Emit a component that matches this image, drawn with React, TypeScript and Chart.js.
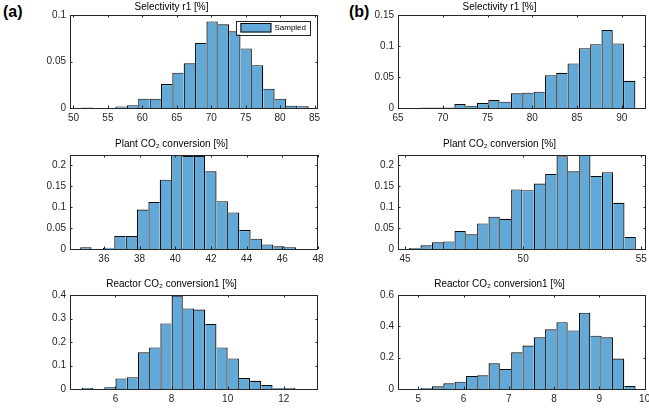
import React, { useEffect, useRef } from "react";
import { Chart, registerables } from "chart.js";

Chart.register(...registerables);

// ---------------- data ----------------
const seriesLabel = "Sampled";
const panelTags = ["(a)", "(b)"];

const titleSelectivity = "Selectivity r1 [%]";
const titlePlant = "Plant CO\u2082 conversion [%]";
const titleReactor = "Reactor CO\u2082 conversion1 [%]";

// (a) Selectivity r1 [%]
const selA_firstEdge = 51.15;
const selA_binWidth = 1.65;
const selA_density = [0.0006, 0, 0, 0.0015, 0.003, 0.01, 0.01, 0.0257, 0.038, 0.048, 0.07, 0.093, 0.09, 0.0825, 0.064, 0.046, 0.0207, 0.01, 0.0025, 0.0018];
const selA_xRange = [49.5, 85.5];
const selA_xStep = 5;
const selA_yRange = [0, 0.1];
const selA_yStep = 0.05;

// (a) Plant CO2 conversion [%]
const plantA_firstEdge = 34.67;
const plantA_binWidth = 0.637;
const plantA_density = [0.004, 0, 0.003, 0.031, 0.031, 0.094, 0.112, 0.165, 0.235, 0.222, 0.222, 0.185, 0.114, 0.087, 0.045, 0.0246, 0.011, 0.0063, 0.004];
const plantA_xRange = [34.1, 48];
const plantA_xStep = 2;
const plantA_yRange = [0, 0.224];
const plantA_yStep = 0.05;

// (a) Reactor CO2 conversion1 [%]
const reacA_firstEdge = 4.8;
const reacA_binWidth = 0.4;
const reacA_density = [0.004, 0, 0.007, 0.045, 0.05, 0.156, 0.177, 0.279, 0.397, 0.343, 0.338, 0.277, 0.177, 0.13, 0.047, 0.035, 0.017, 0.004, 0.004];
const reacA_xRange = [4.38, 13.22];
const reacA_xStep = 2;
const reacA_yRange = [0, 0.4];
const reacA_yStep = 0.1;

// (b) Selectivity r1 [%]
const selB_firstEdge = 67.5;
const selB_binWidth = 1.264;
const selB_density = [0.0008, 0.001, 0.001, 0.0064, 0.0037, 0.008, 0.0129, 0.0102, 0.0236, 0.0246, 0.0262, 0.053, 0.0568, 0.0718, 0.0964, 0.1029, 0.1259, 0.104, 0.0439];
const selB_xRange = [65, 92.7];
const selB_xStep = 5;
const selB_yRange = [0, 0.15];
const selB_yStep = 0.05;

// (b) Plant CO2 conversion [%]
const plantB_firstEdge = 45.17;
const plantB_binWidth = 0.48;
const plantB_density = [0.0024, 0.0087, 0.0159, 0.018, 0.043, 0.035, 0.061, 0.077, 0.072, 0.142, 0.14, 0.156, 0.179, 0.221, 0.185, 0.24, 0.174, 0.183, 0.11, 0.0286];
const plantB_xRange = [44.7, 55.2];
const plantB_xStep = 5;
const plantB_yRange = [0, 0.224];
const plantB_yStep = 0.05;

// (b) Reactor CO2 conversion1 [%]
const reacB_firstEdge = 5.05;
const reacB_binWidth = 0.25;
const reacB_density = [0.0064, 0.017, 0.036, 0.047, 0.083, 0.087, 0.164, 0.128, 0.234, 0.277, 0.33, 0.381, 0.426, 0.374, 0.487, 0.34, 0.33, 0.194, 0.019];
const reacB_xRange = [4.55, 10.03];
const reacB_xStep = 1;
const reacB_yRange = [0, 0.6];
const reacB_yStep = 0.2;

// ---------------- style / layout ----------------
const FONT = "'Liberation Sans', Arial, Helvetica, sans-serif";
const BAR_FILL = "rgb(99,169,216)";
const BAR_EDGE = "#0a0a0a";
const AXIS_COLOR = "#262626";
const Y_AXIS_W = 45;
const X_AXIS_H = 22;
const RIGHT_PAD = 12;

type Box = { l: number; t: number; r: number; b: number };
type PanelProps = {
  title: string;
  firstEdge: number;
  binWidth: number;
  density: number[];
  xRange: number[];
  xStep: number;
  yRange: number[];
  yStep: number;
  box: Box;
  titlePad: { top: number; bottom: number };
  legend?: boolean;
};

const fmt = (v: number) => String(Math.round(v * 10000) / 10000);

const matlabBox = {
  id: "matlabBox",
  afterDatasetsDraw(chart: any) {
    const { ctx, chartArea: a, scales } = chart;
    const xs = scales.x;
    const ys = scales.y;
    const tl = 2.5;
    ctx.save();
    ctx.strokeStyle = AXIS_COLOR;
    ctx.lineWidth = 1;
    ctx.beginPath();
    xs.ticks.forEach((t: any) => {
      const px = Math.round(xs.getPixelForValue(t.value)) + 0.5;
      ctx.moveTo(px, a.bottom);
      ctx.lineTo(px, a.bottom - tl);
      ctx.moveTo(px, a.top);
      ctx.lineTo(px, a.top + tl);
    });
    ys.ticks.forEach((t: any) => {
      const py = Math.round(ys.getPixelForValue(t.value)) + 0.5;
      ctx.moveTo(a.left, py);
      ctx.lineTo(a.left + tl, py);
      ctx.moveTo(a.right, py);
      ctx.lineTo(a.right - tl, py);
    });
    ctx.stroke();
    ctx.strokeRect(
      Math.round(a.left) + 0.5,
      Math.round(a.top) + 0.5,
      Math.round(a.right - a.left) - 1,
      Math.round(a.bottom - a.top)
    );
    ctx.restore();
  },
  afterDraw(chart: any, _args: any, opts: any) {
    if (!opts || !opts.legend) return;
    const { ctx, chartArea: a } = chart;
    const label = chart.data.datasets[0].label;
    ctx.save();
    ctx.font = `8px ${FONT}`;
    const tw = ctx.measureText(label).width;
    const patchW = 31;
    const w = 4 + patchW + 3 + tw + 4;
    const h = 13.5;
    const right = a.right - 8;
    const left = right - w;
    const top = a.top + 6;
    ctx.fillStyle = "#fff";
    ctx.fillRect(left, top, w, h);
    ctx.strokeStyle = AXIS_COLOR;
    ctx.lineWidth = 1;
    ctx.strokeRect(Math.round(left) + 0.5, Math.round(top) + 0.5, Math.round(w), Math.round(h));
    ctx.fillStyle = BAR_FILL;
    ctx.fillRect(left + 4, top + 2, patchW, 9.5);
    ctx.strokeStyle = BAR_EDGE;
    ctx.strokeRect(left + 4.5, top + 2.5, patchW - 1, 8.5);
    ctx.fillStyle = "#000";
    ctx.textBaseline = "middle";
    ctx.textAlign = "left";
    ctx.fillText(label, left + 4 + patchW + 3, top + h / 2 + 0.5);
    ctx.restore();
  },
};

function Histogram(p: PanelProps) {
  const ref = useRef<HTMLCanvasElement | null>(null);
  const titleH = p.titlePad.top + 12 + p.titlePad.bottom;
  const width = Y_AXIS_W + (p.box.r - p.box.l) + RIGHT_PAD;
  const height = titleH + (p.box.b - p.box.t) + X_AXIS_H;

  useEffect(() => {
    if (!ref.current) return;
    const points = p.density.map((v, i) => ({ x: p.firstEdge + p.binWidth * (i + 0.5), y: v }));
    const dens = p.density;
    const tickFont = { family: FONT, size: 10 };
    const chart = new Chart(ref.current, {
      type: "bar",
      data: {
        datasets: [
          {
            label: seriesLabel,
            data: points as any,
            backgroundColor: BAR_FILL,
            borderColor: BAR_EDGE,
            borderWidth: (c: any) => {
              if (c.type !== "data") return 1;
              const i = c.dataIndex;
              const v = dens[i];
              const prev = i > 0 ? dens[i - 1] : 0;
              const next = i < dens.length - 1 ? dens[i + 1] : 0;
              return { top: 1.1, bottom: 0, left: prev <= v ? 1.25 : 0, right: next < v ? 1.25 : 0 };
            },
            borderSkipped: false,
            barPercentage: 1,
            categoryPercentage: 1,
            inflateAmount: 0,
            clip: 0,
          } as any,
        ],
      },
      options: {
        responsive: false,
        animation: false,
        devicePixelRatio: 1,
        layout: { padding: { left: 0, right: RIGHT_PAD, top: 0, bottom: 0 } },
        plugins: {
          legend: { display: false },
          tooltip: { enabled: false },
          title: {
            display: true,
            text: p.title,
            color: "#000",
            font: { family: FONT, size: 10, weight: "normal" },
            padding: p.titlePad,
          },
          matlabBox: { legend: !!p.legend },
        } as any,
        scales: {
          x: {
            type: "linear",
            min: p.xRange[0],
            max: p.xRange[1],
            offset: false,
            grid: { display: false, drawTicks: false },
            border: { display: false },
            ticks: {
              stepSize: p.xStep,
              includeBounds: false,
              autoSkip: false,
              maxRotation: 0,
              padding: 4,
              color: AXIS_COLOR,
              font: tickFont,
              callback: (v: any) => fmt(Number(v)),
            },
            afterFit: (s: any) => {
              s.height = X_AXIS_H;
            },
          },
          y: {
            type: "linear",
            min: p.yRange[0],
            max: p.yRange[1],
            grid: { display: false, drawTicks: false },
            border: { display: false },
            ticks: {
              stepSize: p.yStep,
              includeBounds: false,
              autoSkip: false,
              padding: 4,
              color: AXIS_COLOR,
              font: tickFont,
              callback: (v: any) => fmt(Number(v)),
            },
            afterFit: (s: any) => {
              s.width = Y_AXIS_W;
            },
          },
        } as any,
      },
      plugins: [matlabBox as any],
    });
    return () => chart.destroy();
  }, []);

  return (
    <canvas
      ref={ref}
      width={width}
      height={height}
      style={{
        position: "absolute",
        left: p.box.l - Y_AXIS_W,
        top: p.box.t - titleH,
        width,
        height,
      }}
    />
  );
}

const colA = { l: 70, r: 318 };
const colB = { l: 398, r: 646 };
const row1 = { t: 15, b: 108 };
const row2 = { t: 155, b: 249 };
const row3 = { t: 295, b: 389 };
const padRow1 = { top: 1, bottom: 2 };
const padSub = { top: 1, bottom: 5 };

export default function App() {
  return (
    <div
      style={{
        position: "fixed",
        left: 0,
        top: 0,
        width: 649,
        height: 410,
        background: "#fff",
        overflow: "hidden",
      }}
    >
      <div style={{ position: "absolute", left: 3, top: 4, font: `bold 16px ${FONT}`, lineHeight: "16px", color: "#000" }}>
        {panelTags[0]}
      </div>
      <div style={{ position: "absolute", left: 349, top: 4, font: `bold 16px ${FONT}`, lineHeight: "16px", color: "#000" }}>
        {panelTags[1]}
      </div>

      <Histogram title={titleSelectivity} firstEdge={selA_firstEdge} binWidth={selA_binWidth} density={selA_density}
        xRange={selA_xRange} xStep={selA_xStep} yRange={selA_yRange} yStep={selA_yStep}
        box={{ ...colA, ...row1 }} titlePad={padRow1} legend />
      <Histogram title={titlePlant} firstEdge={plantA_firstEdge} binWidth={plantA_binWidth} density={plantA_density}
        xRange={plantA_xRange} xStep={plantA_xStep} yRange={plantA_yRange} yStep={plantA_yStep}
        box={{ ...colA, ...row2 }} titlePad={padSub} />
      <Histogram title={titleReactor} firstEdge={reacA_firstEdge} binWidth={reacA_binWidth} density={reacA_density}
        xRange={reacA_xRange} xStep={reacA_xStep} yRange={reacA_yRange} yStep={reacA_yStep}
        box={{ ...colA, ...row3 }} titlePad={padSub} />

      <Histogram title={titleSelectivity} firstEdge={selB_firstEdge} binWidth={selB_binWidth} density={selB_density}
        xRange={selB_xRange} xStep={selB_xStep} yRange={selB_yRange} yStep={selB_yStep}
        box={{ ...colB, ...row1 }} titlePad={padRow1} />
      <Histogram title={titlePlant} firstEdge={plantB_firstEdge} binWidth={plantB_binWidth} density={plantB_density}
        xRange={plantB_xRange} xStep={plantB_xStep} yRange={plantB_yRange} yStep={plantB_yStep}
        box={{ ...colB, ...row2 }} titlePad={padSub} />
      <Histogram title={titleReactor} firstEdge={reacB_firstEdge} binWidth={reacB_binWidth} density={reacB_density}
        xRange={reacB_xRange} xStep={reacB_xStep} yRange={reacB_yRange} yStep={reacB_yStep}
        box={{ ...colB, ...row3 }} titlePad={padSub} />
    </div>
  );
}
